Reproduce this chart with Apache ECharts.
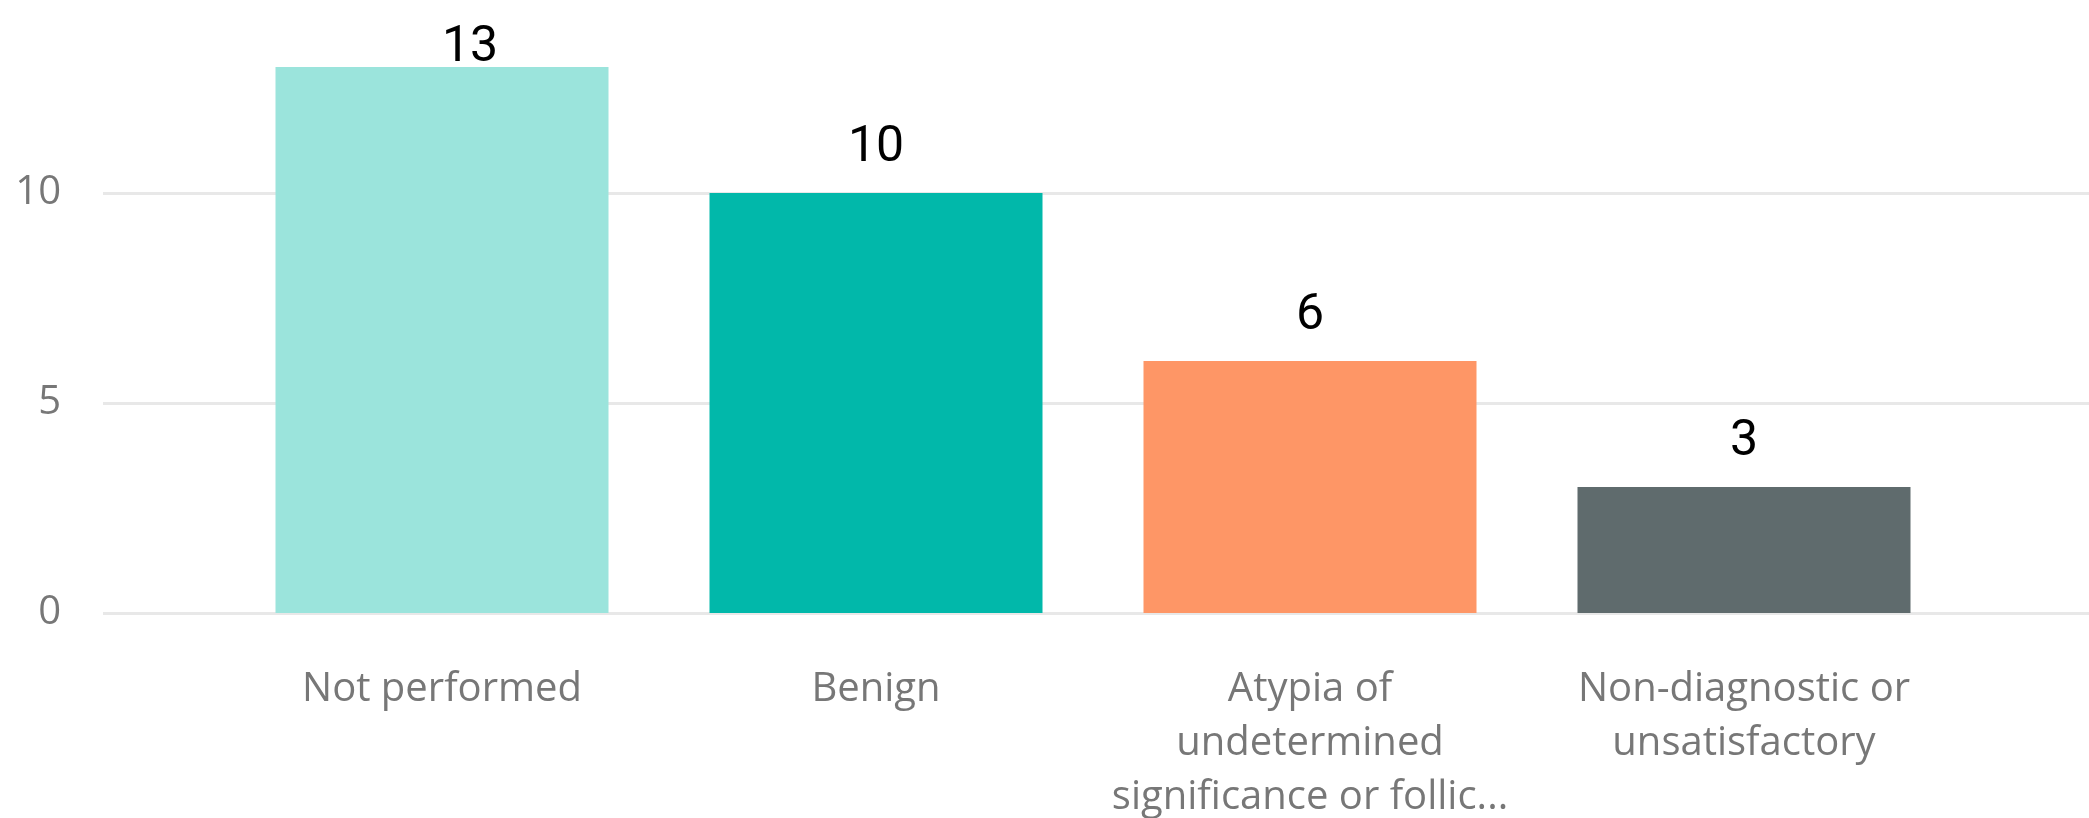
<!DOCTYPE html>
<html>
<head>
<meta charset="utf-8">
<script src="https://cdn.jsdelivr.net/npm/echarts@6/dist/echarts.min.js"></script>
<style>
html,body{margin:0;padding:0;background:#fff;overflow:hidden;width:2089px;height:818px;}
#chart{width:2089px;height:835px;margin-top:-17px;}
</style>
</head>
<body>
<div id="chart"></div>
<script>
// ---- data ----
const categories = ['Not performed', 'Benign', 'Atypia of\nundetermined\nsignificance or follic...', 'Non-diagnostic or\nunsatisfactory'];
const values = [13, 10, 6, 3];
const barColors = ['#9BE4DC', '#01B8AA', '#FE9666', '#5F6B6D'];
const yTicks = [0, 5, 10];

const Y_MIN = 0, Y_MAX = 15, Y_INTERVAL = 5;
const labelFont = "'Open Sans', 'Segoe UI', 'Noto Sans', sans-serif";

const chart = echarts.init(document.getElementById('chart'), null, {renderer: 'canvas'});

const option = {
  backgroundColor: '#ffffff',
  animation: false,
  grid: [
    {left: 103, right: 0, top: 0, bottom: 205, containLabel: false, outerBoundsMode: 'none'},
    {left: 225, right: 128, top: 0, bottom: 205, containLabel: false, outerBoundsMode: 'none'}
  ],
  xAxis: [
    {gridIndex: 0, type: 'value', show: false, min: 0, max: 1},
    {
      gridIndex: 1, type: 'category', data: categories,
      axisLine: {show: false}, axisTick: {show: false},
      axisLabel: {
        interval: 0, margin: 50, color: '#777777',
        fontFamily: labelFont, fontSize: 40, lineHeight: 54, align: 'center'
      }
    }
  ],
  yAxis: [
    {
      gridIndex: 0, type: 'value', min: Y_MIN, max: Y_MAX, interval: Y_INTERVAL,
      axisLine: {show: false}, axisTick: {show: false},
      axisLabel: {
        margin: 42, color: '#777777', fontFamily: labelFont, fontSize: 40,
        formatter: v => (yTicks.indexOf(v) >= 0 ? String(v) : '')
      },
      splitLine: {show: true, lineStyle: {color: '#E8E8E8', width: 3}}
    },
    {gridIndex: 1, type: 'value', min: Y_MIN, max: Y_MAX, interval: Y_INTERVAL, show: false}
  ],
  series: [{
    type: 'bar',
    xAxisIndex: 1, yAxisIndex: 1,
    barWidth: 333,
    data: values.map((v, i) => ({value: v, itemStyle: {color: barColors[i]}})),
    label: {
      show: true, position: 'top', distance: 20,
      color: '#000000', fontSize: 50,
      fontFamily: "Roboto, 'DejaVu Sans', sans-serif"
    },
    labelLayout: function (p) {
      const topLimit = 40;
      if (p.labelRect.y < topLimit) {
        return {y: topLimit, verticalAlign: 'top'};
      }
      return {};
    }
  }]
};

chart.setOption(option);
</script>
</body>
</html>
